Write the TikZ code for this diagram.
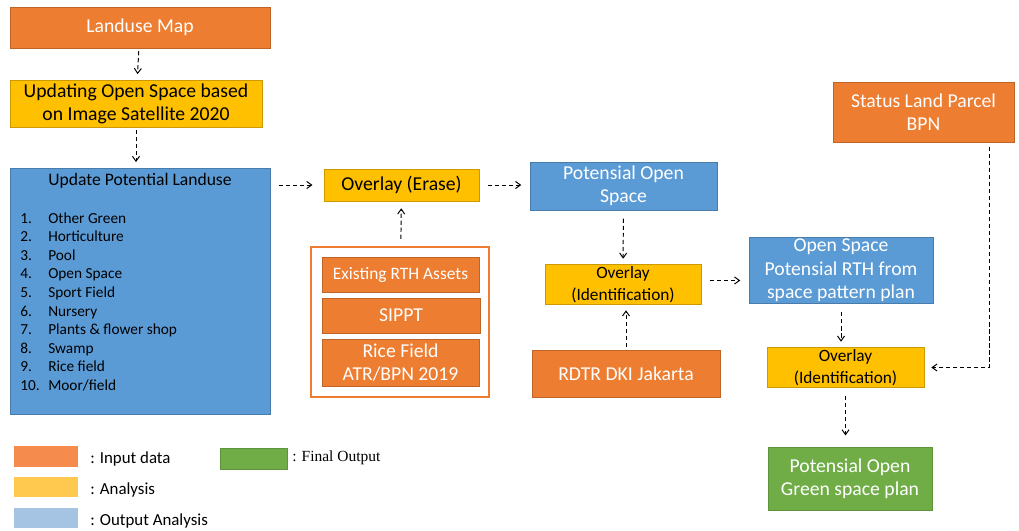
\documentclass[tikz,border=0pt]{standalone}
\usepackage{fontspec}
\setmainfont{Carlito}
\newfontfamily\legserif{Liberation Serif}
\usepackage{xcolor}
\usetikzlibrary{arrows.meta}

\definecolor{inorange}{HTML}{ED7D31}
\definecolor{anyellow}{HTML}{FFC000}
\definecolor{outblue}{HTML}{5B9BD5}
\definecolor{fingreen}{HTML}{70AD47}
\definecolor{legorange}{HTML}{F58B4C}
\definecolor{legyellow}{HTML}{FFC84F}
\definecolor{legblue}{HTML}{A5C3E3}

\tikzset{
  inbox/.style={fill=inorange, draw=inorange!80!black, text=white, align=center, inner sep=1pt},
  anbox/.style={fill=anyellow, draw=anyellow!80!black, text=black, align=center, inner sep=1pt},
  outbox/.style={fill=outblue, draw=outblue!80!black, text=white, align=center, inner sep=1pt},
  finbox/.style={fill=fingreen, draw=fingreen!85!black, text=white, align=center, inner sep=1pt},
  big/.style={font=\fontsize{14}{16.5}\selectfont},
  ident/.style={font=\fontsize{12.3}{16}\selectfont},
  flow/.style={-{Straight Barb[length=3.5pt,width=5pt]}, line width=0.7pt, dash pattern=on 3pt off 2pt, shorten <=2pt, shorten >=4pt},
  swatch/.style={minimum width=1.6cm, minimum height=0.52cm, inner sep=0pt},
  leglabel/.style={anchor=west, inner sep=0pt, font=\fontsize{12}{13}\selectfont}
}

\begin{document}
\begin{tikzpicture}[x=0.025cm,y=-0.025cm]

\useasboundingbox (0,0) rectangle (1019,531);

%% left column

\node[inbox,big, minimum width=6.5cm, minimum height=1.025cm] (lum) at (140,27.5) {Landuse Map};
\node[anbox,big, minimum width=6.3cm, minimum height=1.175cm] (upd) at (136,103.5) {Updating Open Space based\\on Image Satellite 2020};
\node[outbox, minimum width=6.5cm, minimum height=6.15cm] (upl) at (140,291) {};
\node[font=\fontsize{12.5}{14}\selectfont, text=black] (upltitle) at (140,181) {Update Potential Landuse};

%% list of landuse classes
\foreach \n/\t [count=\i] in {1./Other Green, 2./Horticulture, 3./Pool, 4./Open Space, 5./Sport Field,
  6./Nursery, 7./Plants \& flower shop, 8./Swamp, 9./Rice field, 10./{Moor/field}}{
  \node[anchor=base west, inner sep=0pt, font=\fontsize{10.9}{12}\selectfont] (num\i) at (20,{223+18.6*(\i-1)}) {\n};
  \node[anchor=base west, inner sep=0pt, font=\fontsize{10.9}{12}\selectfont] (cls\i) at (48,{223+18.6*(\i-1)}) {\t};
}

%% middle column

\node[anbox,big, minimum width=3.875cm, minimum height=0.8cm] (ove) at (401.5,185) {Overlay (Erase)};
\node[draw=inorange, line width=1.5pt, fill=white, minimum width=4.45cm, minimum height=3.75cm] (rthgrp) at (400,322) {};
\node[inbox, font=\fontsize{12.4}{14}\selectfont, minimum width=3.925cm, minimum height=0.875cm] (rth) at (400.5,274.5) {Existing RTH Assets};
\node[inbox,big, minimum width=3.95cm, minimum height=0.875cm] (sippt) at (401,315.5) {SIPPT};
\node[inbox,big, minimum width=3.925cm, minimum height=1.175cm] (rice) at (400.5,362.5) {Rice Field\\ATR/BPN 2019};

\node[outbox,big, minimum width=4.675cm, minimum height=1.2cm] (pos) at (623.5,186) {Potensial Open\\Space};
\node[anbox,ident, minimum width=3.9cm, minimum height=0.925cm] (ovi) at (623,284.5) {Overlay\\(Identification)};
\node[inbox,big, minimum width=4.7cm, minimum height=1.175cm] (rdtr) at (626,373.5) {RDTR DKI Jakarta};

%% right column

\node[inbox,big, minimum width=4.525cm, minimum height=1.5cm] (bpn) at (923.5,112) {Status Land Parcel\\BPN};
\node[outbox, font=\fontsize{14}{16.8}\selectfont, minimum width=4.6cm, minimum height=1.625cm] (prth) at (841,270.5) {Open Space\\Potensial RTH from\\space pattern plan};
\node[anbox,ident, minimum width=3.925cm, minimum height=0.925cm] (ovf) at (845.5,367.5) {Overlay\\(Identification)};
\node[finbox,big, minimum width=4.1cm, minimum height=1.575cm] (green) at (850,478.5) {Potensial Open\\Green space plan};

%% arrows

\draw[flow] (lum) -- (upd);
\draw[flow] (upd) -- (upd.south |- upl.north);
\draw[flow, shorten <=6pt, shorten >=8pt] (upl.east |- ove.west) -- (ove.west);
\draw[flow, shorten <=6pt, shorten >=6pt] (ove.east) -- (ove.east -| pos.west);
\draw[flow, shorten <=5pt, shorten >=5pt] (rthgrp) -- (ove);
\draw[flow, shorten <=6pt] (pos) -- (ovi);
\draw[flow, shorten <=6pt, shorten >=6pt] ([yshift=0.1cm]ovi.east) -- ([yshift=0.1cm]ovi.east -| prth.west);
\draw[flow] (rdtr.north) -- (rdtr.north |- ovi.south);
\draw[flow, shorten <=6pt] (prth.south) -- (prth.south |- ovf.north);
\draw[flow, shorten <=3pt, shorten >=5pt] ([xshift=-0.625cm]bpn.south east) |- (ovf.east);
\draw[flow, shorten <=6pt, shorten >=8pt] (ovf.south) -- (ovf.south |- green.north);

%% legend

\node[swatch, fill=legorange] (legin) at (46,456.5) {};
\node[leglabel] (legintxt) at (90,459) {: Input data};
\node[swatch, fill=legyellow] (legan) at (46,487) {};
\node[leglabel] (legantxt) at (90,490) {: Analysis};
\node[swatch, fill=legblue] (legout) at (46,518) {};
\node[leglabel] (legouttxt) at (90,521) {: Output Analysis};
\node[swatch, fill=fingreen, draw=fingreen!85!black, minimum width=1.675cm] (legfin) at (253.5,458.5) {};
\node[leglabel, font=\legserif\fontsize{11}{12}\selectfont] (legfintxt) at (292,458) {: Final Output};

\end{tikzpicture}
\end{document}
